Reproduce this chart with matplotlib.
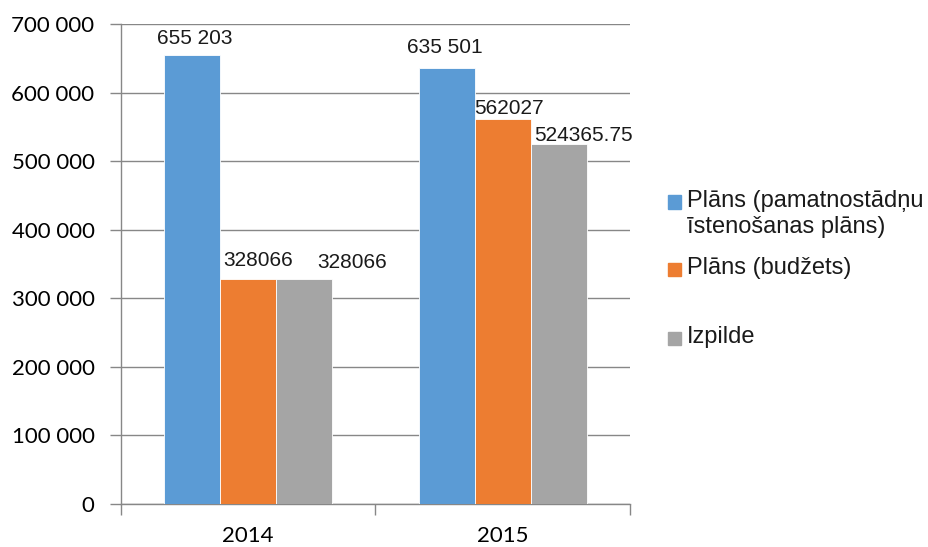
import matplotlib
matplotlib.use("Agg")
import matplotlib.pyplot as plt
from matplotlib.patches import Rectangle
from matplotlib.ticker import FuncFormatter
import numpy as np

# data
years = ["2014", "2015"]
series_names = ["Plāns (pamatnostādņu\nīstenošanas plāns)", "Plāns (budžets)", "Izpilde"]
plan_strategy = [655203, 635501]
plan_budget = [328066, 562027]
execution = [328066, 524365.75]
label_text = [["655 203", "635 501"], ["328066", "562027"], ["328066", "524365.75"]]

colors = ["#5B9BD5", "#ED7D31", "#A5A5A5"]
grid_col = "#878787"
font_main = "Liberation Sans"
font_axis = "Lato"

fig = plt.figure(figsize=(9.29, 5.47), dpi=100)
ax = fig.add_axes([121 / 929, 1 - 504 / 547, 509 / 929, 480 / 547])

x = np.arange(len(years))
width = 0.22
values = [plan_strategy, plan_budget, execution]
# label nudges in px (dx, gap above bar) as placed in the original
label_dx = [[2, -2], [10, 6], [48, 25]]
label_gap = [[11, 15], [13, 5], [11, 3]]
for i, vals in enumerate(values):
    pos = x + (i - 1) * width
    ax.bar(pos, vals, width, color=colors[i], edgecolor="white", linewidth=0.6, zorder=3)
    for j, v in enumerate(vals):
        ax.annotate(label_text[i][j], (pos[j], v),
                    xytext=(label_dx[i][j] * 0.72, label_gap[i][j] * 0.72),
                    textcoords="offset points", ha="center", va="baseline",
                    fontsize=15, family=font_main, color="#1a1a1a")

ax.set_xlim(-0.5, 1.5)
ax.set_ylim(0, 700000)
ax.set_yticks(np.arange(0, 700001, 100000))
ax.yaxis.set_major_formatter(FuncFormatter(lambda v, p: f"{int(v):,}".replace(",", " ")))
ax.yaxis.grid(True, color=grid_col, linewidth=1, zorder=0)
ax.tick_params(axis="y", length=8, width=1, color=grid_col, pad=11, labelsize=16)
for lab in ax.get_yticklabels():
    lab.set_family(font_axis)

ax.set_xticks([-0.5, 0.5, 1.5])
ax.set_xticklabels([])
ax.set_xticks(x, minor=True)
ax.set_xticklabels(years, minor=True, family=font_axis, fontsize=16)
ax.tick_params(axis="x", which="major", length=8, width=1, color=grid_col)
ax.tick_params(axis="x", which="minor", length=0, pad=16)

for side in ["top", "right"]:
    ax.spines[side].set_visible(False)
for side in ["left", "bottom"]:
    ax.spines[side].set_color(grid_col)
    ax.spines[side].set_linewidth(1)

# legend drawn by hand to keep the original's uneven spacing
legend_y = [202, 269, 338]
for name, col, yy in zip(series_names, colors, legend_y):
    fig.add_artist(Rectangle((668 / 929, 1 - (yy + 6.5) / 547), 13 / 929, 13 / 547,
                             transform=fig.transFigure, color=col))
    fig.text(687 / 929, 1 - (yy - 12) / 547, name, ha="left", va="top",
             fontsize=17, family=font_main, color="#1a1a1a", linespacing=1.25)

fig.savefig("out.png", dpi=100)
